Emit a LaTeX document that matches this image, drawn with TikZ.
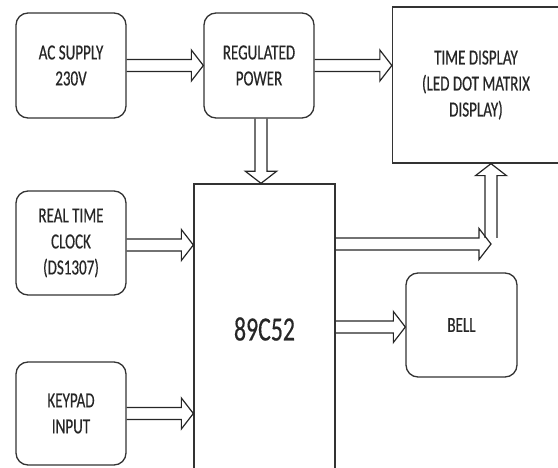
\documentclass[tikz,border=0pt]{standalone}
\usepackage{fontspec}
\setmainfont[FakeStretch=0.7, FakeBold=0.4]{Carlito}
\usepackage{tikz}
\usetikzlibrary{calc}

\begin{document}
\begin{tikzpicture}[
  x=1pt, y=-1pt,
  font=\fontsize{21.5}{26}\selectfont, text=black!85,
  blk/.style={draw=black!80, line width=1.3pt, rounded corners=12pt, align=center,
              minimum width=110pt, minimum height=105pt, inner sep=2pt},
  unit/.style={draw=black!80, line width=1.3pt, align=center, inner sep=2pt},
  bus/.style={draw=black!85, line width=1.2pt, line join=miter, to path={
    let \p1=($(\tikztotarget)!12pt!(\tikztostart)$) in
    ($(\tikztostart)!6pt!90:(\tikztotarget)$) -- ($(\p1)!6pt!90:(\tikztotarget)$)
    -- ($(\p1)!15.5pt!90:(\tikztotarget)$) -- (\tikztotarget)
    -- ($(\p1)!15.5pt!-90:(\tikztotarget)$) -- ($(\p1)!6pt!-90:(\tikztotarget)$)
    -- ($(\tikztostart)!6pt!-90:(\tikztotarget)$)}}
]
\useasboundingbox (0,0) rectangle (558,468);
\clip (0,0) rectangle (558,468);
\node[blk] (ac)   at (71,65.5)  {AC SUPPLY\\230V};
\node[blk] (reg)  at (259,65.5) {REGULATED\\POWER};
\node[unit, minimum width=167pt, minimum height=156pt] (disp) at (476,85)
  {TIME DISPLAY\\(LED DOT MATRIX\\DISPLAY)};
\node[blk, minimum height=104pt] (rtc) at (71,243) {REAL TIME\\CLOCK\\(DS1307)};
\node[blk, minimum height=103pt] (key) at (71,413.5) {KEYPAD\\INPUT};
\node[unit, minimum width=141pt, minimum height=290pt,
      font=\fontsize{34}{36}\selectfont] (mcu) at (264.5,329) {89C52};
\node[blk, minimum width=111pt, minimum height=104pt] (bell) at (461.5,325) {BELL};
% bus end points
\coordinate (pw) at ([xshift=2pt]reg.south);
\coordinate (ck) at ([yshift=-2pt]rtc.east);
\coordinate (bl) at ([yshift=-2pt]bell.west);
\coordinate (tap) at (491,244);
\coordinate (up) at (491,238);
\draw[bus] (ac.east) to (reg.west);
\draw[bus] (reg.east) to (reg.east -| disp.west);
\draw[bus] (pw) to (pw |- mcu.north);
\draw[bus] (ck) to (ck -| mcu.west);
\draw[bus] (key.east) to (key.east -| mcu.west);
\draw[bus] (bl -| mcu.east) to (bl);
\draw[bus] (tap -| mcu.east) to (tap);
\draw[bus] (up) to (up |- disp.south);
\end{tikzpicture}
\end{document}
